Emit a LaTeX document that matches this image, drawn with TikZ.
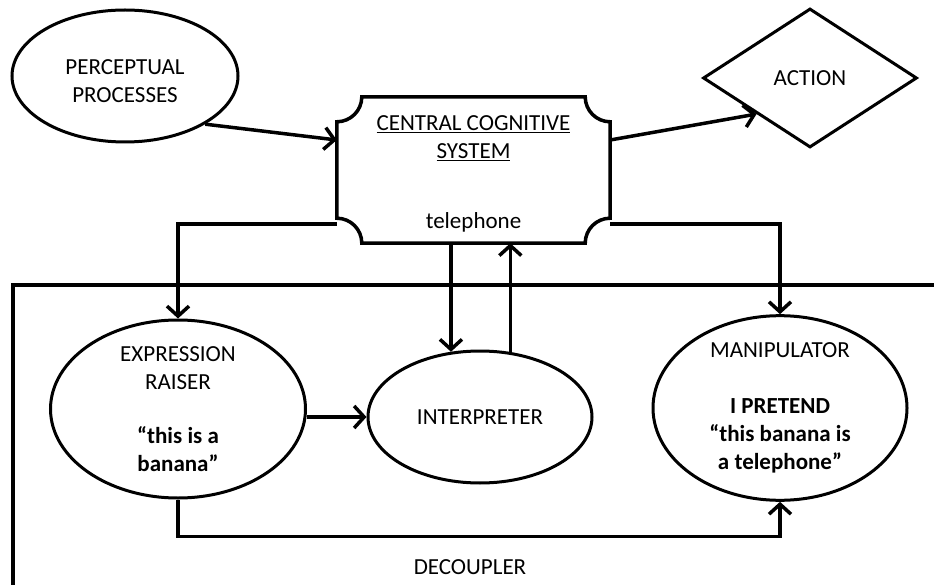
\documentclass[tikz,border=0pt]{standalone}
\usepackage{fontspec}
\setmainfont{Carlito}
\usetikzlibrary{shapes.geometric,arrows.meta,calc}
\begin{document}
\begin{tikzpicture}[x=1pt,y=-1pt,
  every node/.style={font=\fontsize{23}{28}\selectfont, text=black},
  shp/.style={draw, line width=3pt},
  ell/.style={shp, ellipse, inner sep=0pt, align=center},
  conn/.style={line width=3.5pt, -{Straight Barb[length=10pt,width=22pt]}},
  plain/.style={line width=3.5pt}
]
\useasboundingbox (0,0) rectangle (934,585);
\fill[white] (0,0) rectangle (934,585);

% decoupler frame
\draw[plain] (13,585) -- (13,285) -- (934,285);

% perceptual processes
\node[ell, minimum width=226pt, minimum height=132pt] (percep) at (125,76) {};
\node[align=center] (perceptext) at (125,81) {PERCEPTUAL\\PROCESSES};

% action
\node[diamond, shp, minimum width=214pt, minimum height=139pt, inner sep=0pt] (action) at (810,78) {ACTION};

% central cognitive system (plaque)
\node[minimum width=273pt, minimum height=146pt, inner sep=0pt] (ccs) at (473.5,170) {};
\draw[plain]
  ($(ccs.north west)+(25,0)$) -- ($(ccs.north east)+(-25,0)$)
  arc[start angle=180,end angle=270,radius=25pt]
  -- ($(ccs.south east)+(0,-25)$)
  arc[start angle=90,end angle=180,radius=25pt]
  -- ($(ccs.south west)+(25,0)$)
  arc[start angle=0,end angle=90,radius=25pt]
  -- ($(ccs.north west)+(0,25)$)
  arc[start angle=270,end angle=360,radius=25pt]
  -- cycle;
\node[align=center] (ccstitle) at (473.5,138) {\underline{CENTRAL COGNITIVE}\\\underline{SYSTEM}};
\node (tel) at (473.5,222) {telephone};

% expression raiser
\node[ell, minimum width=255pt, minimum height=178pt] (expr) at (178,409)
  {EXPRESSION\\RAISER\\[26pt]\textbf{“this is a}\\\textbf{banana”}};

% interpreter
\node[ell, minimum width=224pt, minimum height=132pt] (interp) at (480,417) {INTERPRETER};

% manipulator
\node[ell, minimum width=254pt, minimum height=177pt] (manip) at (780,408)
  {MANIPULATOR\\[28pt]\textbf{I PRETEND}\\\textbf{“this banana is}\\\textbf{a telephone”}};

% decoupler label
\node (decoupler) at (470,567) {DECOUPLER};

% connectors
\draw[conn] (percep.-31) -- ([yshift=30pt]ccs.west);
\draw[conn] ([yshift=30pt]ccs.east) -- (action.214);
\draw[conn] ([yshift=19pt]ccs.south west) -| (expr.north);
\draw[conn] ([yshift=19pt]ccs.south east) -| (manip.north);
\draw[conn] (ccs.south -| interp.114) -- (interp.114);
\draw[conn] (interp.65) -- (interp.65 |- ccs.south);
\draw[conn] (interp.west -| expr.east) -- (interp.west);
\draw[conn] (expr.south) -- ++(0,37) -| (manip.south);
\end{tikzpicture}
\end{document}
